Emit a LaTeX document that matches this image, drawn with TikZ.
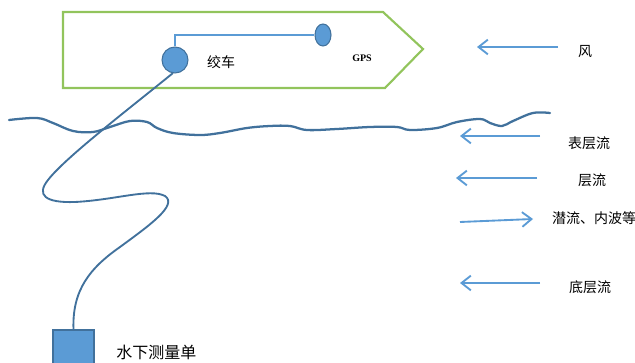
\documentclass[tikz,border=0pt]{standalone}
\usepackage{fontspec}
\setmainfont{Liberation Serif}
\newfontfamily\cjk{Noto Sans CJK SC}
\usetikzlibrary{arrows.meta,shapes.geometric}
\definecolor{boatgreen}{RGB}{146,196,92}
\definecolor{fillblue}{RGB}{91,155,213}
\definecolor{edgeblue}{RGB}{65,113,156}
\definecolor{arrowblue}{RGB}{91,155,213}
\tikzset{
  boatline/.style={draw=boatgreen, line width=1.6pt, line join=miter},
  waterline/.style={draw=edgeblue, line width=1.7pt, line cap=round},
  cableline/.style={draw=edgeblue, line width=1.4pt, line cap=round},
  flowarrow/.style={draw=arrowblue, line width=1.4pt, -{Straight Barb[length=7pt,width=11pt,line width=1.4pt]}},
  lbl/.style={font=\cjk\fontsize{10.5}{12}\selectfont, inner sep=0pt},
  device/.style={fill=fillblue, draw=edgeblue, line width=0.8pt, inner sep=0pt},
}
\begin{document}
\begin{tikzpicture}[x=0.75pt,y=-0.75pt]
\useasboundingbox (0,0) rectangle (635,363);
% boat
\draw[boatline] (63,12) -- (383,12) -- (423,49) -- (385,88) -- (63,88) -- cycle;
\node[device, circle, minimum size=19.5pt] (winch) at (175,60) {};
\node[device, ellipse, minimum width=12pt, minimum height=16.5pt] (gps) at (323,35) {};
\draw[draw=arrowblue, line width=1.3pt] (winch.north) |- (gps.west);
\node[lbl] (winchlbl) at (221,62) {绞车};
\node[font=\bfseries\fontsize{7.5}{9}\selectfont, inner sep=0pt] (gpslbl) at (362,58) {GPS};
% water surface
\draw[waterline] plot[smooth, tension=0.6] coordinates {
 (9,120) (37,118) (53,123) (73,131) (93,132) (110,127) (130,121) (147,122) (157,128)
 (173,133) (200,135) (220,133) (247,128) (270,126) (290,126) (307,130) (337,129)
 (370,127) (397,127) (410,130) (437,128) (457,122) (480,119) (490,123) (502,126)
 (513,121) (533,113) (550,113)};
% cable and underwater unit
\node[device, rectangle, minimum width=30.75pt, minimum height=27pt] (unit) at (73.5,348) {};
\draw[cableline] (winch.-100) .. controls (125,112) and (65,158) .. (48,180)
  .. controls (36,195) and (45,203) .. (75,202)
  .. controls (115,200) and (150,188) .. (165,196)
  .. controls (178,205) and (150,225) .. (120,247)
  .. controls (90,268) and (72,290) .. (unit.north);
\node[font=\cjk\fontsize{12}{14}\selectfont, inner sep=0pt, anchor=west] (unitlbl) at (116,352) {水下测量单};
% arrows and labels
\coordinate (w1) at (558,47); \coordinate (w2) at (477,47);
\draw[flowarrow] (w1) -- (w2);
\node[lbl] (windlbl) at (585,52) {风};
\coordinate (s1) at (540,136); \coordinate (s2) at (460,136);
\draw[flowarrow] (s1) -- (s2);
\node[lbl] (surflbl) at (589,143) {表层流};
\coordinate (l1) at (537,178); \coordinate (l2) at (456,178);
\draw[flowarrow] (l1) -- (l2);
\node[lbl] (laylbl) at (592,180) {层流};
\coordinate (u1) at (460,222); \coordinate (u2) at (533,219);
\draw[flowarrow] (u1) -- (u2);
\node[lbl] (underlbl) at (594,218) {潜流、内波等};
\coordinate (b1) at (540,283); \coordinate (b2) at (460,283);
\draw[flowarrow] (b1) -- (b2);
\node[lbl] (botlbl) at (590,287) {底层流};
\end{tikzpicture}
\end{document}
